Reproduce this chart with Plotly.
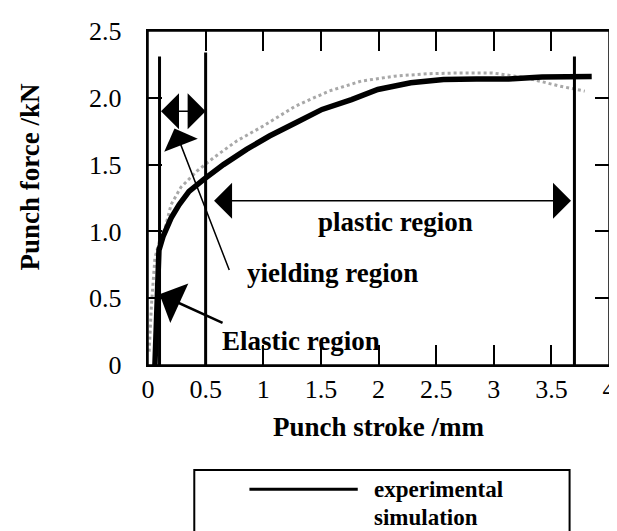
import plotly.graph_objects as go

# ---- data ----
exp_x = [0.06, 0.075, 0.085, 0.095, 0.13, 0.2, 0.27, 0.356, 0.484, 0.655, 0.855,
         1.054, 1.282, 1.51, 1.766, 1.994, 2.28, 2.564, 2.85, 3.13, 3.42, 3.70, 3.85]
exp_y = [0.0, 0.35, 0.75, 0.86, 0.96, 1.10, 1.20, 1.30, 1.39, 1.50, 1.614,
         1.714, 1.813, 1.913, 1.987, 2.062, 2.112, 2.137, 2.14, 2.14, 2.155, 2.16, 2.16]

sim_x = [0.01, 0.03, 0.06, 0.1, 0.15, 0.2, 0.285, 0.427, 0.57, 0.77, 1.0, 1.28,
         1.57, 1.85, 2.14, 2.42, 2.7, 2.99, 3.28, 3.56, 3.79]
sim_y = [0.1, 0.45, 0.8, 0.93, 1.03, 1.20, 1.33, 1.453, 1.552, 1.677, 1.789, 1.938,
         2.05, 2.125, 2.162, 2.18, 2.186, 2.186, 2.15, 2.09, 2.05]

region_bounds = [0.1, 0.5, 3.7]
bound_tops = [2.31, 2.34, 2.31]

x_ticks = [0, 0.5, 1, 1.5, 2, 2.5, 3, 3.5, 4]
x_tick_text = ["0", "0.5", "1", "1.5", "2", "2.5", "3", "3.5", "4"]
y_ticks = [0, 0.5, 1.0, 1.5, 2.0, 2.5]
y_tick_text = ["0", "0.5", "1.0", "1.5", "2.0", "2.5"]

FONT = "Liberation Serif"
PAD = "\u00a0" * 3   # gap between y tick labels and the frame

fig = go.Figure()
fig.add_trace(go.Scatter(x=sim_x, y=sim_y, mode="lines", name="simulation",
                         line=dict(color="#a8a8a8", width=3, dash="dot"),
                         showlegend=False))
fig.add_trace(go.Scatter(x=exp_x, y=exp_y, mode="lines", name="experimental",
                         line=dict(color="black", width=5.5),
                         showlegend=False))

# region boundary lines
for bx, bt in zip(region_bounds, bound_tops):
    fig.add_shape(type="line", xref="x", yref="y", x0=bx, x1=bx, y0=0, y1=bt,
                  line=dict(color="black", width=3))

# plot frame
fig.add_shape(type="rect", xref="paper", yref="paper", x0=0, x1=1, y0=0, y1=1,
              line=dict(color="black", width=1.5), layer="above")

arrow_common = dict(xref="x", yref="y", axref="x", ayref="y", text="",
                    showarrow=True, arrowcolor="black")
fig.add_annotation(x=0.50, y=1.90, ax=0.10, ay=1.90, arrowhead=1, arrowsize=4,
                   arrowwidth=1.5, arrowside="end+start", startarrowhead=1,
                   startarrowsize=4, **arrow_common)
fig.add_annotation(x=3.67, y=1.23, ax=0.56, ay=1.23, arrowhead=1, arrowsize=4,
                   arrowwidth=1.5, arrowside="end+start", startarrowhead=1,
                   startarrowsize=4, **arrow_common)
fig.add_annotation(x=0.23, y=1.77, ax=0.71, ay=0.70, arrowhead=1, arrowsize=4,
                   arrowwidth=1.5, **arrow_common)
fig.add_annotation(x=0.10, y=0.53, ax=0.66, ay=0.31, arrowhead=1, arrowsize=2.9,
                   arrowwidth=2.5, **arrow_common)

label_font = dict(family=FONT, size=27, color="black")
fig.add_annotation(x=2.15, y=1.07, xref="x", yref="y", text="<b>plastic region</b>",
                   showarrow=False, font=label_font, yanchor="middle")
fig.add_annotation(x=1.60, y=0.69, xref="x", yref="y", text="<b>yielding region</b>",
                   showarrow=False, font=label_font, yanchor="middle")
fig.add_annotation(x=1.33, y=0.18, xref="x", yref="y", text="<b>Elastic region</b>",
                   showarrow=False, font=label_font, yanchor="middle")

# y-axis title (placed a little above the plot centre, as in the reference)
fig.add_annotation(x=-0.255, y=0.563, xref="paper", yref="paper",
                   text="<b>Punch force /kN</b>", textangle=-90, showarrow=False,
                   xanchor="center", yanchor="middle",
                   font=dict(family=FONT, size=27, color="black"))

# manual legend box below the plot
legend_font = dict(family=FONT, size=23, color="black")
fig.add_shape(type="rect", xref="paper", yref="paper", x0=0.1004, x1=0.9145,
              y0=-0.60, y1=-0.3144, line=dict(color="black", width=2))
fig.add_shape(type="line", xref="paper", yref="paper", x0=0.220, x1=0.455,
              y0=-0.372, y1=-0.372, line=dict(color="black", width=3))
fig.add_annotation(x=0.485, y=-0.372, xref="paper", yref="paper",
                   text="<b>experimental</b>", showarrow=False, xanchor="left",
                   yanchor="middle", font=legend_font)
fig.add_annotation(x=0.485, y=-0.458, xref="paper", yref="paper",
                   text="<b>simulation</b>", showarrow=False, xanchor="left",
                   yanchor="middle", font=legend_font)

fig.update_layout(
    width=617, height=531,
    margin=dict(l=140, r=9, t=23, b=174),
    paper_bgcolor="white", plot_bgcolor="white",
    font=dict(family=FONT, size=26, color="black"),
    xaxis=dict(range=[0, 4], tickvals=x_ticks, ticktext=x_tick_text,
               ticks="inside", ticklen=20, tickwidth=2, tickcolor="black",
               showline=True, linecolor="black", linewidth=1.5, mirror="allticks",
               showgrid=False, zeroline=False,
               tickfont=dict(family=FONT, size=26),
               title=dict(text="<b>Punch stroke /mm</b>", standoff=14,
                          font=dict(family=FONT, size=27))),
    yaxis=dict(range=[0, 2.5], tickvals=y_ticks,
               ticktext=[t + PAD for t in y_tick_text],
               ticks="inside", ticklen=14, tickwidth=2, tickcolor="black",
               showline=True, linecolor="black", linewidth=1.5, mirror="allticks",
               showgrid=False, zeroline=False,
               tickfont=dict(family=FONT, size=26)),
    showlegend=False,
)

fig.write_html("out.html")
